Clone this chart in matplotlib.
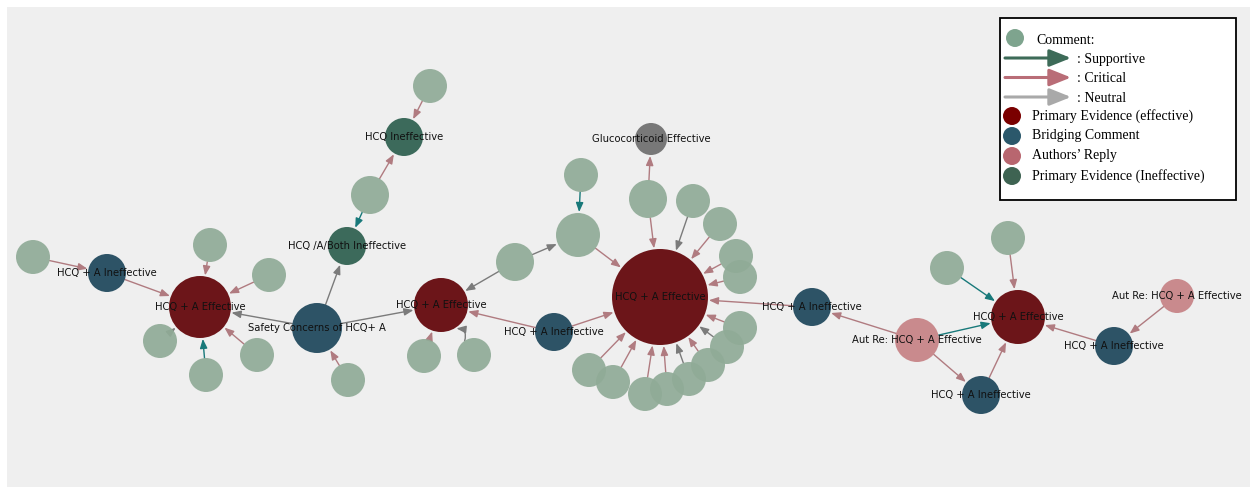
#Network of comments around the HCQ + A evidence, drawn with plain matplotlib patches

import numpy as np
import matplotlib.pyplot as plt
from matplotlib.patches import Circle, FancyArrowPatch, Rectangle

#Nodes: name, position in the picture (pixels), radius, type and label
node_names = ['c1', 'B1', 'P1', 'c2', 'c3', 'c4', 'c5', 'c6', 'B2', 'c7',
              'G1', 'c8', 'G2', 'c9', 'P2', 'c10', 'c11', 'c12', 'c13', 'c14',
              'B3', 'P3', 'GL', 'c15', 'c16', 'c17', 'c18', 'c19', 'c20', 'c21',
              'c22', 'c23', 'c24', 'c25', 'c26', 'c27', 'B4', 'A1', 'B5', 'P4',
              'c28', 'c29', 'B6', 'A2']
node_x = [33, 107, 200, 210, 269, 160, 257, 206, 317, 348,
          347, 370, 404, 430, 441, 424, 474, 515, 578, 581,
          554, 660, 651, 648, 693, 720, 736, 740, 740, 727,
          708, 689, 667, 645, 613, 589, 812, 917, 981, 1018,
          947, 1008, 1114, 1177]
node_y = [257, 273, 307, 245, 275, 341, 355, 375, 328, 380,
          246, 195, 137, 86, 305, 356, 355, 262, 235, 175,
          332, 297, 139, 199, 201, 224, 256, 277, 328, 347,
          365, 379, 389, 394, 382, 370, 307, 340, 395, 317,
          268, 238, 346, 296]
node_r = [17, 19, 31, 17, 17, 17, 17, 17, 25, 17,
          19, 19, 19, 17, 27, 17, 17, 19, 22, 17,
          19, 48, 16, 19, 17, 17, 17, 17, 17, 17,
          17, 17, 17, 17, 17, 17, 19, 22, 19, 27,
          17, 17, 19, 17]
node_type = ['comment', 'bridge', 'effective', 'comment', 'comment', 'comment', 'comment', 'comment', 'bridge', 'comment',
             'ineffective', 'comment', 'ineffective', 'comment', 'effective', 'comment', 'comment', 'comment', 'comment', 'comment',
             'bridge', 'effective', 'other', 'comment', 'comment', 'comment', 'comment', 'comment', 'comment', 'comment',
             'comment', 'comment', 'comment', 'comment', 'comment', 'comment', 'bridge', 'reply', 'bridge', 'effective',
             'comment', 'comment', 'bridge', 'reply']
node_labels = {
    'B1': 'HCQ + A Ineffective',
    'P1': 'HCQ + A Effective',
    'B2': 'Safety Concerns of HCQ+ A',
    'G1': 'HCQ /A/Both Ineffective',
    'G2': 'HCQ Ineffective',
    'P2': 'HCQ + A Effective',
    'B3': 'HCQ + A Ineffective',
    'P3': 'HCQ + A Effective',
    'GL': 'Glucocorticoid Effective',
    'B4': 'HCQ + A Ineffective',
    'A1': 'Aut Re: HCQ + A Effective',
    'B5': 'HCQ + A Ineffective',
    'P4': 'HCQ + A Effective',
    'B6': 'HCQ + A Ineffective',
    'A2': 'Aut Re: HCQ + A Effective',
}

#Edges: source -> target and kind of comment
edge_src = ['c1', 'B1', 'c2', 'c3', 'c4', 'c5', 'c6', 'B2', 'B2', 'B2',
            'c7', 'c8', 'c8', 'c9', 'c10', 'c11', 'c12', 'c12', 'c14', 'c13',
            'B3', 'B3', 'c15', 'c15', 'c16', 'c17', 'c18', 'c19', 'B4', 'c20',
            'c21', 'c22', 'c23', 'c24', 'c25', 'c26', 'c27', 'A1', 'A1', 'A1',
            'B5', 'c28', 'c29', 'B6', 'A2']
edge_dst = ['B1', 'P1', 'P1', 'P1', 'P1', 'P1', 'P1', 'P1', 'G1', 'P2',
            'B2', 'G1', 'G2', 'G2', 'P2', 'P2', 'P2', 'c13', 'c13', 'P3',
            'P2', 'P3', 'GL', 'P3', 'P3', 'P3', 'P3', 'P3', 'P3', 'P3',
            'P3', 'P3', 'P3', 'P3', 'P3', 'P3', 'P3', 'B4', 'P4', 'B5',
            'P4', 'P4', 'P4', 'P4', 'B6']
edge_kind = ['critical', 'critical', 'critical', 'critical', 'neutral', 'critical', 'supportive', 'neutral', 'neutral', 'neutral',
             'critical', 'supportive', 'critical', 'critical', 'critical', 'neutral', 'neutral', 'neutral', 'supportive', 'critical',
             'critical', 'critical', 'critical', 'critical', 'neutral', 'critical', 'critical', 'critical', 'critical', 'critical',
             'neutral', 'critical', 'neutral', 'critical', 'critical', 'critical', 'critical', 'critical', 'supportive', 'critical',
             'critical', 'supportive', 'critical', 'critical', 'critical']
curved_edges = [('c11', 'P2')]

node_colors = {'comment': '#90ab97', 'effective': '#6c1519', 'bridge': '#2d5366',
               'reply': '#c98a8d', 'ineffective': '#3c6a5b', 'other': '#787878'}
edge_colors = {'critical': '#b07b80', 'neutral': '#7b7b7b', 'supportive': '#18797a'}

#Legend entries
legend_arrow_labels = [': Supportive', ': Critical', ': Neutral']
legend_arrow_colors = ['#3d6b58', '#b96d77', '#a9a9a9']
legend_node_labels = ['Primary Evidence (effective)', 'Bridging Comment',
                      "Authors\u2019 Reply", 'Primary Evidence (Ineffective)']
legend_node_colors = ['#7a0000', '#2b586b', '#b8666f', '#3e6352']

W, H = 1250, 487
fig = plt.figure(figsize=(W / 100, H / 100), dpi=100)
ax = fig.add_axes([0, 0, 1, 1])
ax.set_xlim(0, W)
ax.set_ylim(H, 0)
ax.axis('off')

ax.add_patch(Rectangle((7, 7), W - 7, H - 7, facecolor='#efefef', edgecolor='none', zorder=0))

pos = {n: (x, y, r) for n, x, y, r in zip(node_names, node_x, node_y, node_r)}

#edges first, trimmed to the node borders
for s, d, k in zip(edge_src, edge_dst, edge_kind):
    x0, y0, r0 = pos[s]
    x1, y1, r1 = pos[d]
    v = np.array([x1 - x0, y1 - y0], dtype=float)
    u = v / np.hypot(*v)
    a = (x0 + u[0] * r0, y0 + u[1] * r0)
    b = (x1 - u[0] * (r1 + 1), y1 - u[1] * (r1 + 1))
    cs = 'arc3,rad=0.6' if (s, d) in curved_edges else 'arc3'
    ax.add_patch(FancyArrowPatch(a, b, arrowstyle='-|>,head_length=0.55,head_width=0.22',
                                 mutation_scale=10, color=edge_colors[k], lw=1.0,
                                 connectionstyle=cs, shrinkA=0, shrinkB=0, zorder=1))

for n, x, y, r, t in zip(node_names, node_x, node_y, node_r, node_type):
    alpha = 0.92 if t == 'comment' else 1.0
    ax.add_patch(Circle((x, y), r, facecolor=node_colors[t], edgecolor='none', alpha=alpha, zorder=2))

for n, lab in node_labels.items():
    x, y, r = pos[n]
    ax.text(x, y, lab, ha='center', va='center', fontsize=7.2, color='#111111',
            family='DejaVu Sans', zorder=3)

#legend box
ax.add_patch(Rectangle((1000, 18), 236, 182, facecolor='white', edgecolor='black', lw=1.3, zorder=4))
serif = 'Liberation Serif'
ax.add_patch(Circle((1015, 38), 9, facecolor='#7ea48e', edgecolor='none', zorder=5))
ax.text(1036, 40, 'Comment:', fontsize=10, family=serif, va='center', zorder=5)
for i, (lab, col) in enumerate(zip(legend_arrow_labels, legend_arrow_colors)):
    y = 58 + i * 19.5
    ax.add_patch(FancyArrowPatch((1005, y), (1071, y), arrowstyle='-|>,head_length=1.0,head_width=0.4',
                                 mutation_scale=13, color=col, lw=2.2, shrinkA=0, shrinkB=0, zorder=5))
    ax.text(1077, y + 1, lab, fontsize=10, family=serif, va='center', zorder=5)
for i, (lab, col) in enumerate(zip(legend_node_labels, legend_node_colors)):
    y = 116 + i * 20
    ax.add_patch(Circle((1012, y), 9, facecolor=col, edgecolor='none', zorder=5))
    ax.text(1032, y, lab, fontsize=10, family=serif, va='center', zorder=5)

fig.savefig('out.png', dpi=100)
